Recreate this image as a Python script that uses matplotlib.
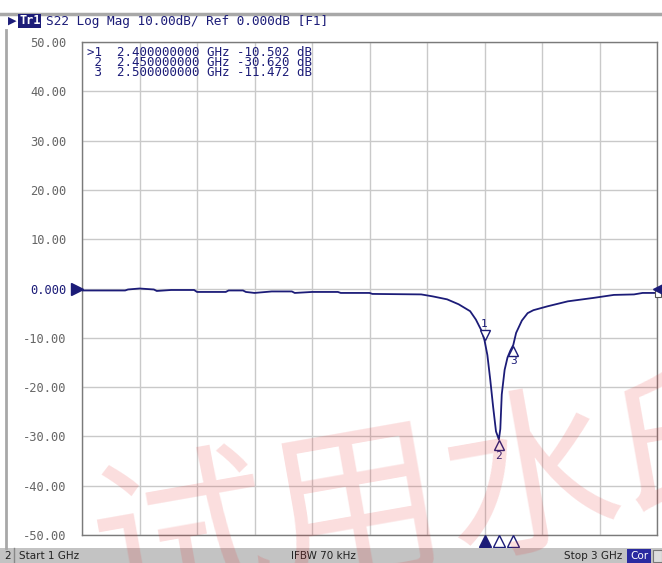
import numpy as np
import matplotlib
matplotlib.use("Agg")
import matplotlib.pyplot as plt
from matplotlib.transforms import offset_copy, blended_transform_factory
from matplotlib.patches import Rectangle

# ---------------- data ----------------
freq_ghz = [1.00, 1.15, 1.16, 1.20, 1.25, 1.26, 1.31, 1.39, 1.40, 1.50, 1.51, 1.56,
            1.57, 1.60, 1.66, 1.73, 1.74, 1.80, 1.89, 1.90, 2.00, 2.01, 2.18, 2.22,
            2.27, 2.31, 2.35, 2.37, 2.39, 2.40, 2.41, 2.42, 2.43, 2.44, 2.45, 2.455,
            2.46, 2.47, 2.48, 2.49, 2.50, 2.51, 2.53, 2.55, 2.57, 2.62, 2.69, 2.78,
            2.85, 2.92, 2.95, 3.00]
s22_db = [-0.40, -0.40, -0.20, 0.00, -0.20, -0.50, -0.30, -0.30, -0.70, -0.70, -0.40, -0.40,
          -0.70, -0.90, -0.60, -0.60, -0.90, -0.70, -0.70, -0.90, -0.90, -1.10, -1.20, -1.60,
          -2.20, -3.20, -4.60, -6.30, -8.60, -10.50, -13.50, -18.50, -24.00, -29.00, -30.62, -28.5,
          -21.50, -16.50, -14.00, -12.60, -11.47, -9.00, -6.50, -5.00, -4.40, -3.60, -2.60, -1.90,
          -1.30, -1.20, -0.90, -0.90]

marker_ids = ["1", "2", "3"]
marker_freq = [2.40, 2.45, 2.50]
marker_db = [-10.502, -30.620, -11.472]
marker_rows = [">1", " 2", " 3"]

y_ticks = [50, 40, 30, 20, 10, 0, -10, -20, -30, -40, -50]
y_tick_labels = ["50.00", "40.00", "30.00", "20.00", "10.00", "0.000",
                 "-10.00", "-20.00", "-30.00", "-40.00", "-50.00"]
x_grid = [1.0, 1.2, 1.4, 1.6, 1.8, 2.0, 2.2, 2.4, 2.6, 2.8, 3.0]

title_text = "S22 Log Mag 10.00dB/ Ref 0.000dB [F1]"
status_start = "Start 1 GHz"
status_ifbw = "IFBW 70 kHz"
status_stop = "Stop 3 GHz"
watermark = "试用水印"

# ---------------- layout ----------------
W, H = 662, 563
NAVY = "#1c1c78"
MONO = "DejaVu Sans Mono"

def fx(px):
    return px / W

def fy(py):
    return 1 - py / H

fig = plt.figure(figsize=(W / 100, H / 100), dpi=100)
fig.patch.set_facecolor("white")

ax = fig.add_axes([fx(82), fy(535), (657 - 82) / W, (535 - 42) / H])
ax.set_facecolor("white")
ax.set_xlim(1, 3)
ax.set_ylim(-50, 50)
ax.set_xticks(x_grid)
ax.set_yticks(y_ticks)
ax.set_yticklabels(y_tick_labels, fontfamily=MONO, fontsize=8.7)
ax.tick_params(length=0, labelbottom=False, labelcolor="#666666", pad=11)
for lbl in ax.get_yticklabels():
    if lbl.get_text() == "0.000":
        lbl.set_color(NAVY)
ax.grid(color="#c9c9c9", lw=1.0)
for sp in ax.spines.values():
    sp.set_color("#7a7a7a")
    sp.set_linewidth(1.0)

# trace
ax.plot(freq_ghz, s22_db, color=NAVY, lw=1.3, zorder=3)

# markers on trace
for mid, mf, md in zip(marker_ids, marker_freq, marker_db):
    if mid == "1":
        tr = offset_copy(ax.transData, fig=fig, y=4, units="points")
        ax.plot([mf], [md], marker="v", ms=7, mfc="white", mec=NAVY, mew=1.0,
                transform=tr, zorder=4)
        ax.text(mf, md, mid, transform=offset_copy(ax.transData, fig=fig, y=8, units="points"),
                ha="center", va="bottom", fontsize=8, fontfamily=MONO, color=NAVY, zorder=4)
    else:
        tr = offset_copy(ax.transData, fig=fig, y=-4, units="points")
        ax.plot([mf], [md], marker="^", ms=7, mfc="white", mec=NAVY, mew=1.0,
                transform=tr, zorder=4)
        ax.text(mf, md, mid, transform=offset_copy(ax.transData, fig=fig, y=-8, units="points"),
                ha="center", va="top", fontsize=8, fontfamily=MONO, color=NAVY, zorder=4)

# bottom marker indicators
btr = blended_transform_factory(ax.transData, ax.transAxes)
btr = offset_copy(btr, fig=fig, y=-4, units="points")
for i, mf in enumerate(marker_freq):
    ax.plot([mf], [0], marker="^", ms=8, transform=btr, clip_on=False,
            mfc=NAVY if i == 0 else "white", mec=NAVY, mew=1.0, zorder=5)

# reference level markers
fig.lines.append(plt.Line2D([fx(77)], [fy(289)], marker=">", ms=9, color=NAVY,
                            transform=fig.transFigure))
fig.lines.append(plt.Line2D([fx(659)], [fy(289)], marker="<", ms=9, color=NAVY,
                            transform=fig.transFigure))
fig.patches.append(Rectangle((fx(655), fy(297)), 6 / W, 8 / H, transform=fig.transFigure,
                             fc="white", ec="#555555", lw=0.8))

# marker table (one multi-line text)
table_lines = [f"{lab}  {mf:.9f} GHz {md:.3f} dB"
               for lab, mf, md in zip(marker_rows, marker_freq, marker_db)]
fig.text(fx(87), fy(46), "\n".join(table_lines), fontfamily=MONO, fontsize=9,
         color=NAVY, va="top", ha="left", linespacing=0.72)

# frame decorations
fig.lines.append(plt.Line2D([0, 1], [fy(14), fy(14)], color="#a8a8a8", lw=2.5,
                            transform=fig.transFigure))
fig.lines.append(plt.Line2D([fx(6), fx(6)], [fy(548), fy(30)], color="#a8a8a8", lw=2,
                            transform=fig.transFigure))

# title
fig.text(fx(8), fy(21), "▶", fontsize=8, color=NAVY, va="center", fontfamily="DejaVu Sans")
fig.text(fx(19), fy(21), "Tr1", fontsize=8.6, color="white", va="center", fontfamily=MONO,
         fontweight="bold", bbox=dict(boxstyle="square,pad=0.08", fc=NAVY, ec="none"))
fig.text(fx(46), fy(21), title_text, fontsize=9.2, color=NAVY, va="center", fontfamily=MONO)

# status bar
fig.patches.append(Rectangle((0, 0), 1, 15 / H, transform=fig.transFigure,
                             fc="#c3c3c3", ec="none"))
fig.text(fx(4), fy(556), "2", fontsize=7.5, color="#222222", va="center")
fig.lines.append(plt.Line2D([fx(14), fx(14)], [0, fy(548)], color="#888888", lw=1,
                            transform=fig.transFigure))
fig.text(fx(19), fy(556), status_start, fontsize=7.5, color="#222222", va="center")
fig.text(fx(323), fy(556), status_ifbw, fontsize=7.5, color="#222222", va="center", ha="center")
fig.text(fx(622), fy(556), status_stop, fontsize=7.5, color="#222222", va="center", ha="right")
fig.patches.append(Rectangle((fx(627), 0), 24 / W, 14 / H, transform=fig.transFigure,
                             fc="#2a2aa0", ec="none"))
fig.text(fx(639), fy(556), "Cor", fontsize=7.5, color="white", va="center", ha="center")
fig.patches.append(Rectangle((fx(653), fy(562)), 9 / W, 12 / H, transform=fig.transFigure,
                             fc="#dddddd", ec="#777777", lw=0.8))

# watermark
fig.text(fx(445), fy(500), watermark, fontsize=128, color="#e83030", alpha=0.16,
         rotation=10, ha="center", va="center", rotation_mode="anchor",
         fontfamily=["Noto Sans CJK SC", "DejaVu Sans"], zorder=10)

fig.savefig("out.png", dpi=100)
